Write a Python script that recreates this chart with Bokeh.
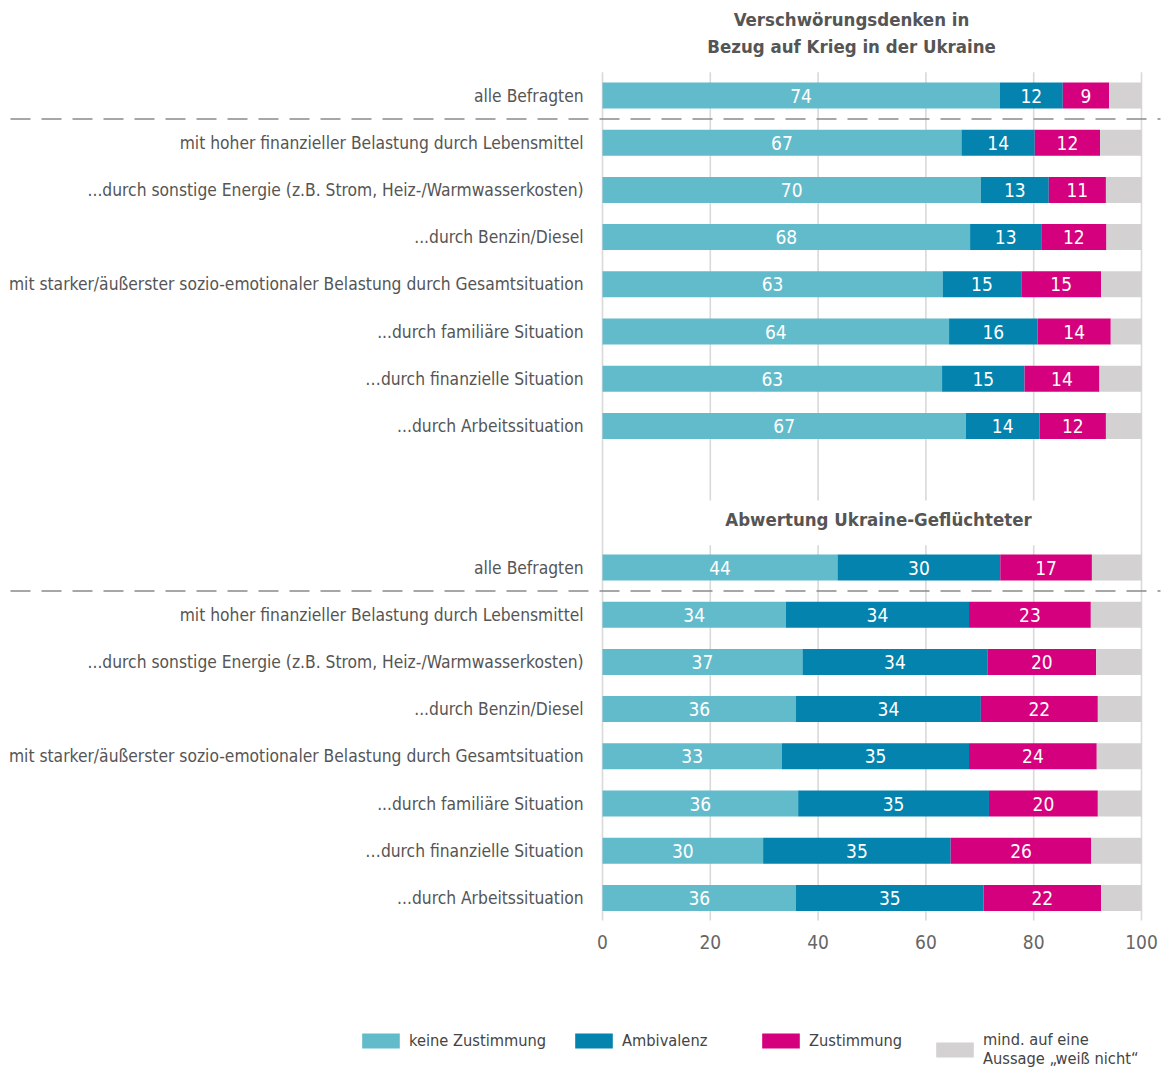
from bokeh.plotting import figure
from bokeh.models import Range1d, FixedTicker, Legend, LegendItem, ColumnDataSource
from bokeh.layouts import column
from bokeh.embed import file_html
from bokeh.resources import INLINE
from bokeh.core.properties import value

# ---------------- data ----------------
categories = [
    "alle Befragten",
    "mit hoher finanzieller Belastung durch Lebensmittel",
    "...durch sonstige Energie (z.B. Strom, Heiz-/Warmwasserkosten)",
    "...durch Benzin/Diesel",
    "mit starker/äußerster sozio-emotionaler Belastung durch Gesamtsituation",
    "...durch familiäre Situation",
    "\u2026durch finanzielle Situation",
    "...durch Arbeitssituation",
]
section_titles = [
    "Verschwörungsdenken in\nBezug auf Krieg in der Ukraine",
    "Abwertung Ukraine-Geflüchteter",
]
series_names = ["keine Zustimmung", "Ambivalenz", "Zustimmung",
                "mind. auf eine\nAussage \u201eweiß nicht\u201c"]
series_colors = ["#62bbcb", "#0383ae", "#d5007d", "#d3d1d2"]

# Verschwörungsdenken in Bezug auf Krieg in der Ukraine
vd_keine = [73.7, 66.6, 70.2, 68.2, 63.1, 64.3, 63.0, 67.4]
vd_ambi  = [11.7, 13.6, 12.6, 13.2, 14.6, 16.4, 15.3, 13.7]
vd_zust  = [8.6, 12.1, 10.6, 12.1, 14.8, 13.6, 13.9, 12.3]

# Abwertung Ukraine-Geflüchteter
ab_keine = [43.6, 34.0, 37.1, 35.9, 33.3, 36.3, 29.8, 35.9]
ab_ambi  = [30.2, 34.0, 34.3, 34.3, 34.7, 35.4, 34.8, 34.8]
ab_zust  = [17.0, 22.6, 20.2, 21.7, 23.7, 20.2, 26.1, 21.8]

x_ticks = [0, 20, 40, 60, 80, 100]

# ---------------- layout constants ----------------
FONT = "'DejaVu Sans Condensed', 'Liberation Sans Narrow', sans-serif"
W = 1164
H_MAIN = 968
H_LEG = 103
PX_PER_UNIT = 5.39
ZERO_PX = 602
ROW_PX = 47.2
FIRST_ROW_PX = 95
FRAME_BOTTOM = 923
BORDER_BOTTOM = H_MAIN - FRAME_BOTTOM

x_start = -ZERO_PX / PX_PER_UNIT
x_end = (W - ZERO_PX) / PX_PER_UNIT
y_top = -FIRST_ROW_PX / ROW_PX
y_bottom = (FRAME_BOTTOM - FIRST_ROW_PX) / ROW_PX

p = figure(width=W, height=H_MAIN, output_backend="svg", toolbar_location=None,
           x_range=Range1d(x_start, x_end), y_range=Range1d(y_bottom, y_top),
           min_border_left=0, min_border_right=0, min_border_top=0,
           min_border_bottom=BORDER_BOTTOM, outline_line_color=None)
p.yaxis.visible = False
p.xgrid.visible = False
p.ygrid.visible = False
p.background_fill_color = "white"
p.border_fill_color = "white"

# gridlines (drawn per panel)
GRID_COL = "#d9d9d9"
inner = [t for t in x_ticks if t not in (0, 100)]
p.segment(x0=inner, x1=inner, y0=[-0.49] * len(inner), y1=[8.58] * len(inner),
          line_color=GRID_COL, line_width=1.6)
p.segment(x0=inner, x1=inner, y0=[9.53] * len(inner), y1=[17.48] * len(inner),
          line_color=GRID_COL, line_width=1.6)
p.segment(x0=[0, 100], x1=[0, 100], y0=[-0.49, -0.49], y1=[17.48, 17.48],
          line_color=GRID_COL, line_width=1.6)

# bars
BAR_H = 0.55
sections = [(0, vd_keine, vd_ambi, vd_zust), (10, ab_keine, ab_ambi, ab_zust)]
ys_all, lefts, rights = {i: [] for i in range(4)}, {i: [] for i in range(4)}, {i: [] for i in range(4)}
lab_x, lab_y, lab_t = [], [], []
for offset, keine, ambi, zust in sections:
    for j in range(len(categories)):
        vals = [keine[j], ambi[j], zust[j]]
        vals.append(100 - sum(vals))
        cum = 0
        for k, v in enumerate(vals):
            ys_all[k].append(offset + j)
            lefts[k].append(cum)
            rights[k].append(cum + v)
            if k < 3:
                lab_x.append(cum + v / 2)
                lab_y.append(offset + j)
                lab_t.append(f"{v:.0f}")
            cum += v

for k in range(4):
    src = ColumnDataSource(dict(y=ys_all[k], left=lefts[k], right=rights[k]))
    p.hbar(y="y", left="left", right="right", height=BAR_H, source=src,
           fill_color=series_colors[k], line_color=None)

p.text(x=lab_x, y=lab_y, text=lab_t, text_color="white", text_align="center",
       text_baseline="middle", text_font=value(FONT), text_font_size="19px")

# category labels
cy, ct = [], []
for offset in (0, 10):
    for j, c in enumerate(categories):
        cy.append(offset + j)
        ct.append(c)
p.text(x=[-3.5] * len(ct), y=cy, text=ct, text_color="#555555", text_align="right",
       text_baseline="middle", text_font=value(FONT), text_font_size="17.3px")

# dashed separators below "alle Befragten"
dx0 = (10 - ZERO_PX) / PX_PER_UNIT
dx1 = (1160 - ZERO_PX) / PX_PER_UNIT
p.segment(x0=[dx0, dx0], x1=[dx1, dx1], y0=[0.5, 10.5], y1=[0.5, 10.5],
          line_color="#8a8a8a", line_width=1.5, line_dash="20 11")

# section titles
p.text(x=[46.2], y=[-1.32], text=[section_titles[0]], text_color="#555555",
       text_align="center", text_baseline="middle", text_font=value(FONT),
       text_font_size="18.5px", text_font_style="bold", text_line_height=1.3)
p.text(x=[51.2], y=[8.98], text=[section_titles[1]], text_color="#555555",
       text_align="center", text_baseline="middle", text_font=value(FONT),
       text_font_size="18.5px", text_font_style="bold")

# x axis
p.xaxis.ticker = FixedTicker(ticks=x_ticks)
p.xaxis.axis_line_color = None
p.xaxis.major_tick_line_color = None
p.xaxis.minor_tick_line_color = None
p.xaxis.major_tick_out = 0
p.xaxis.major_tick_in = 0
p.xaxis.major_label_standoff = 11
p.xaxis.major_label_text_font = FONT
p.xaxis.major_label_text_font_size = "19px"
p.xaxis.major_label_text_color = "#666666"

# ---------------- legend figure ----------------
pl = figure(width=W, height=H_LEG, output_backend="svg", toolbar_location=None,
            x_range=Range1d(0, 1), y_range=Range1d(0, 1),
            min_border=0, outline_line_color=None)
pl.axis.visible = False
pl.grid.visible = False
pl.background_fill_color = "white"
pl.border_fill_color = "white"
leg_x = [357, 570, 757, 931]
leg_y = [21, 21, 21, 3]
for k in range(4):
    # zero-width key bar: invisible in the plot, gives the legend its swatch colour
    key = pl.hbar(y=[0.5], left=[0], right=[0], height=0.5,
                  fill_color=series_colors[k], line_color=None)
    leg = Legend(items=[LegendItem(label=series_names[k], renderers=[key])],
                 location=(leg_x[k], leg_y[k]), orientation="horizontal",
                 glyph_width=47, glyph_height=19, label_standoff=5,
                 padding=0, margin=0, spacing=0,
                 border_line_alpha=0, background_fill_alpha=0,
                 label_text_font=FONT, label_text_font_size="16.3px",
                 label_text_color="#444444", label_height=15,
                 label_text_line_height=1.25)
    pl.add_layout(leg, "center")

layout = column(p, pl, spacing=0)
open("out.html", "w").write(file_html(layout, INLINE))
